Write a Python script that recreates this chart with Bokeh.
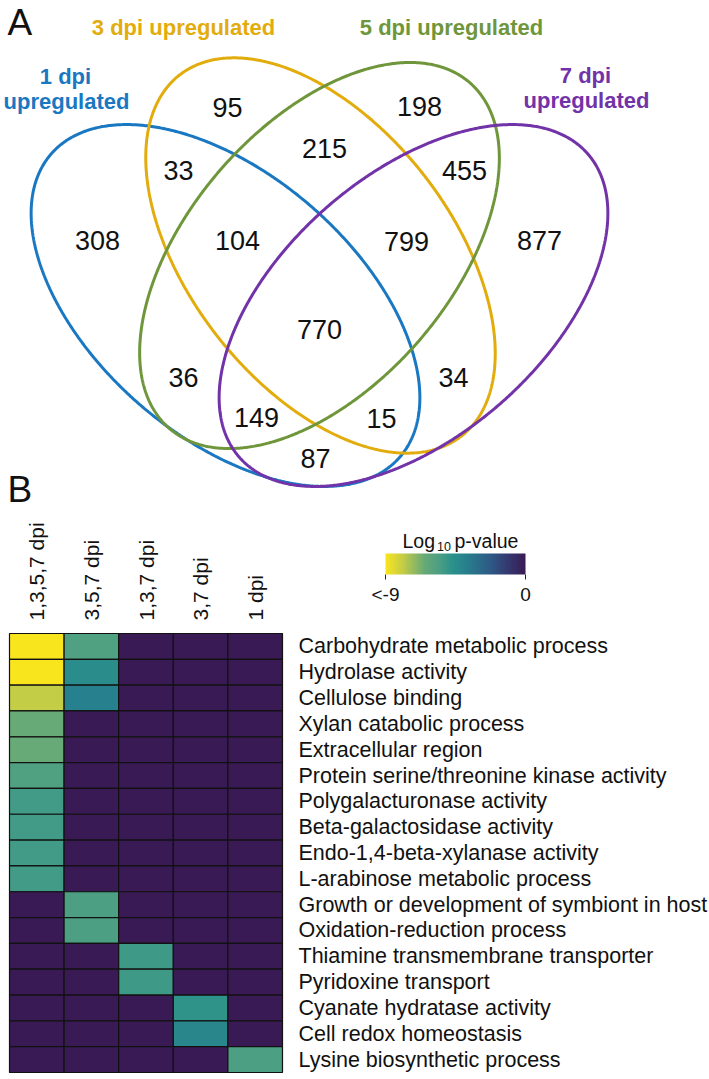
import numpy as np
from bokeh.plotting import figure
from bokeh.models import Range1d, LinearColorMapper, ColorBar, FixedTicker, ColumnDataSource
from bokeh.embed import file_html
from bokeh.resources import INLINE
from bokeh.core.properties import value
from bokeh.transform import transform

# ---------------- data: panel A (Venn) ----------------
set_names = ["1 dpi upregulated", "3 dpi upregulated", "5 dpi upregulated", "7 dpi upregulated"]
region_sets = ["1", "3", "5", "7", "1,3", "3,5", "5,7", "1,3,5", "3,5,7",
               "1,3,5,7", "1,5", "3,7", "1,5,7", "1,3,7", "1,7"]
region_counts = [308, 95, 198, 877, 33, 215, 455, 104, 799,
                 770, 36, 34, 149, 15, 87]

# ---------------- data: panel B (heatmap) ----------------
columns = ["1,3,5,7 dpi", "3,5,7 dpi", "1,3,7 dpi", "3,7 dpi", "1 dpi"]
terms = ["Carbohydrate metabolic process", "Hydrolase activity", "Cellulose binding",
         "Xylan catabolic process", "Extracellular region",
         "Protein serine/threonine kinase activity", "Polygalacturonase activity",
         "Beta-galactosidase activity", "Endo-1,4-beta-xylanase activity",
         "L-arabinose metabolic process", "Growth or development of symbiont in host",
         "Oxidation-reduction process", "Thiamine transmembrane transporter",
         "Pyridoxine transport", "Cyanate hydratase activity", "Cell redox homeostasis",
         "Lysine biosynthetic process"]
log10p_1357 = [-9.5, -9.0, -7.9, -6.5, -6.5, -5.7, -5.3, -5.3, -5.3, -5.3, 0, 0, 0, 0, 0, 0, 0]
log10p_357 = [-5.7, -4.5, -3.8, 0, 0, 0, 0, 0, 0, 0, -5.6, -5.6, 0, 0, 0, 0, 0]
log10p_137 = [0, 0, 0, 0, 0, 0, 0, 0, 0, 0, 0, 0, -5.2, -5.2, 0, 0, 0]
log10p_37 = [0, 0, 0, 0, 0, 0, 0, 0, 0, 0, 0, 0, 0, 0, -4.8, -4.2, 0]
log10p_1 = [0, 0, 0, 0, 0, 0, 0, 0, 0, 0, 0, 0, 0, 0, 0, 0, -5.6]
cbar_ticks = [-9, 0]
cbar_tick_labels = ["<-9", "0"]

# ---------------- layout / style (not data) ----------------
FONT = "Liberation Sans"
W, H = 708, 1076
set_colors = ["#1A78C2", "#E2AC0C", "#6F963B", "#7232A8"]
# ellipse geometry in page pixels: cx, cy, semi-major, semi-minor, tilt (deg)
ellipses = [(225, 305, 231, 131, 41), (320, 255, 229, 131, 52),
            (319, 255, 229, 131, -49), (413, 305, 231, 131, -41)]
region_x = [97, 227, 419, 539, 178, 324, 464, 237, 406, 319, 183, 453, 256, 381, 315]
region_y = [240, 107, 106, 240, 170, 148, 170, 240, 241, 329, 377, 377, 417, 418, 458]
# title line anchors (center x, visual middle y) for each set
title_pos = [[(65, 76), (66, 101)], [(183, 27)], [(451, 27)], [(585, 75), (586, 100)]]
# heatmap box in page pixels
HX0, HX1, HY0, HY1 = 9, 282, 633, 1072

p = figure(width=W, height=H, x_range=Range1d(0, W), y_range=Range1d(H, 0),
           output_backend="svg", toolbar_location=None, min_border=0,
           x_axis_location=None, y_axis_location=None)
p.grid.visible = False
p.outline_line_color = None

# ---- panel A ----
t = np.linspace(0, 2 * np.pi, 721)
for (cx, cy, a, b, ang), col in zip(ellipses, set_colors):
    th = np.deg2rad(ang)
    xs = cx + a * np.cos(t) * np.cos(th) - b * np.sin(t) * np.sin(th)
    ys = cy + a * np.cos(t) * np.sin(th) + b * np.sin(t) * np.cos(th)
    p.line(xs, ys, line_color=col, line_width=3)

p.text(x=region_x, y=region_y, text=[str(c) for c in region_counts],
       text_align="center", text_baseline="middle", text_font=value(FONT),
       text_font_size="27px", text_color="#111111")

lab_x, lab_y, lab_t, lab_c = [], [], [], []
for name, col, pos in zip(set_names, set_colors, title_pos):
    words = name.split(" ")
    parts = [name] if len(pos) == 1 else [" ".join(words[:2]), " ".join(words[2:])]
    for ptxt, (px, py) in zip(parts, pos):
        lab_x.append(px); lab_y.append(py); lab_t.append(ptxt); lab_c.append(col)
p.text(x=lab_x, y=lab_y, text=lab_t, text_color=lab_c, text_align="center",
       text_baseline="middle", text_font=value(FONT), text_font_size="22px",
       text_font_style="bold")

p.text(x=[7, 7], y=[21.5, 489], text=["A", "B"], text_align="left",
       text_baseline="middle", text_font=value(FONT),
       text_font_size="37px", text_color="#111111")

# ---- panel B: heatmap on its own scales ----
ncols, nrows = len(columns), len(terms)
cw = (HX1 - HX0) / ncols
rh = (HY1 - HY0) / nrows
p.extra_x_ranges = {"hx": Range1d(-HX0 / cw, (W - HX0) / cw)}
p.extra_y_ranges = {"hy": Range1d((H - HY0) / rh, -HY0 / rh)}

series = [log10p_1357, log10p_357, log10p_137, log10p_37, log10p_1]
src = ColumnDataSource(dict(
    cx=[ci + 0.5 for ci, s in enumerate(series) for _ in s],
    ry=[ri + 0.5 for s in series for ri in range(len(s))],
    col=[c for c, s in zip(columns, series) for _ in s],
    term=[tm for s in series for tm in terms],
    val=[v for s in series for v in s],
))

anchors = [(0.00, "#F9E51E"), (0.12, "#C5CD46"), (0.28, "#66A977"), (0.38, "#4C9F84"),
           (0.48, "#2B918B"), (0.58, "#277F8D"), (0.75, "#2E5986"), (0.88, "#34386F"),
           (1.00, "#3A1A54")]
def _rgb(h):
    return np.array([int(h[i:i + 2], 16) for i in (1, 3, 5)], dtype=float)
apos = np.array([q for q, _ in anchors])
argb = np.array([_rgb(h) for _, h in anchors])
palette = []
for f in np.linspace(0, 1, 256):
    r = [np.interp(f, apos, argb[:, k]) for k in range(3)]
    palette.append("#%02x%02x%02x" % tuple(int(round(v)) for v in r))
mapper = LinearColorMapper(palette=palette, low=-9, high=0)

p.rect(x="cx", y="ry", width=1, height=1, source=src, x_range_name="hx", y_range_name="hy",
       fill_color=transform("val", mapper), line_color="#111111", line_width=1.2)

# row labels (right) and column labels (above, rotated)
p.text(x=[ncols + 16 / cw] * nrows, y=[ri + 0.5 for ri in range(nrows)], text=terms,
       x_range_name="hx", y_range_name="hy", text_align="left", text_baseline="middle",
       text_font=value(FONT), text_font_size="21.5px", text_color="#111111")
p.text(x=[ci + 0.5 for ci in range(ncols)], y=[-13 / rh] * ncols, text=columns,
       x_range_name="hx", y_range_name="hy", angle=np.pi / 2, text_align="left",
       text_baseline="middle", text_font=value(FONT), text_font_size="21px",
       text_color="#111111")

# colour bar
cb = ColorBar(color_mapper=mapper, orientation="horizontal", width=140, height=21,
              padding=0, location=(385, H - 607),
              ticker=FixedTicker(ticks=cbar_ticks),
              major_label_overrides=dict(zip(cbar_ticks, cbar_tick_labels)),
              major_tick_in=0, major_tick_out=5, major_tick_line_color="#222222",
              minor_tick_line_color=None, label_standoff=4,
              major_label_text_font=FONT, major_label_text_font_size="19px",
              major_label_text_color="#111111", bar_line_color=None,
              border_line_color=None, background_fill_color=None)
p.add_layout(cb)

p.text(x=[402, 454], y=[540, 540], text=["Log", "p-value"], text_align="left",
       text_baseline="middle", text_font=value(FONT), text_font_size="19.5px",
       text_color="#111111")
p.text(x=[436.5], y=[546], text=["10"], text_align="left", text_baseline="middle",
       text_font=value(FONT), text_font_size="12.5px", text_color="#111111")

open("out.html", "w").write(file_html(p, INLINE))
